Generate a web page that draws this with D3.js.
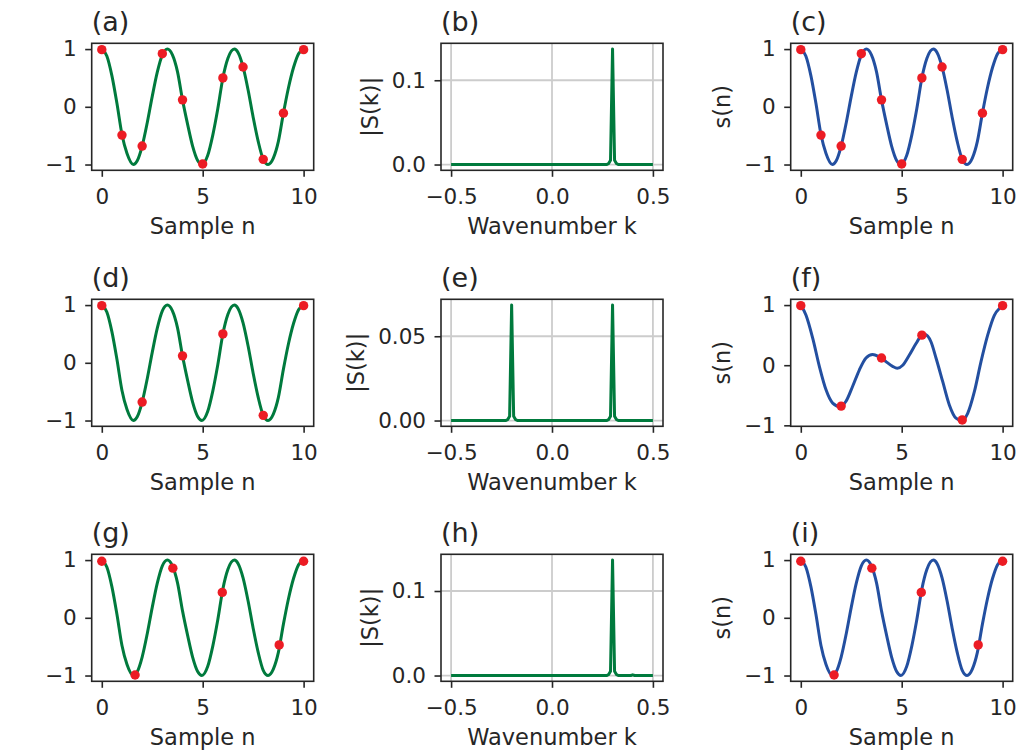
<!DOCTYPE html>
<html><head><meta charset="utf-8">
<script src="https://cdn.jsdelivr.net/npm/d3@7"></script>
<style>
body{margin:0;background:#fff}
text{font-family:"DejaVu Sans",sans-serif;fill:#262626}
</style>
</head><body>
<svg id="chart" width="1021" height="753"></svg>
<script>
// ---- data ----
// continuous signal (panels a, c, d, g, i)
const signalT = [0,0.25,0.5,0.75,1.0,1.25,1.56,1.75,2.0,2.25,2.5,2.75,3.0,3.25,3.5,3.75,4.0,4.25,4.5,4.75,4.96,5.25,5.5,5.75,6.0,6.25,6.57,6.75,7.0,7.25,7.5,7.75,8.0,8.24,8.5,8.75,9.0,9.25,9.5,9.75,10];
const signalS = [1.0,0.88,0.54,0.06,-0.48,-0.81,-1.0,-0.94,-0.68,-0.28,0.18,0.6,0.9,1.0,0.9,0.61,0.12,-0.3,-0.68,-0.93,-1.0,-0.84,-0.49,-0.03,0.5,0.84,1.0,0.94,0.69,0.29,-0.18,-0.6,-0.91,-1.0,-0.89,-0.6,-0.11,0.33,0.68,0.92,1.0];
// reconstruction from even samples (panel f)
const reconT = [0,0.26,0.59,0.92,1.25,1.58,1.95,2.24,2.57,2.9,3.23,3.56,3.89,4.0,4.22,4.55,4.78,5.05,5.38,5.71,6.0,6.15,6.45,6.7,7.03,7.36,7.69,7.97,8.27,8.6,8.93,9.26,9.59,9.92,10];
const reconS = [1.0,0.83,0.45,-0.02,-0.41,-0.63,-0.69,-0.6,-0.35,-0.08,0.12,0.18,0.14,0.12,0.06,-0.02,-0.05,0.0,0.17,0.36,0.5,0.51,0.39,0.12,-0.27,-0.66,-0.88,-0.92,-0.8,-0.44,0.06,0.5,0.83,0.97,1.0];
// samples
const fullN = [0,1,2,3,4,5,6,7,8,9,10];
const fullS = [0.99,-0.49,-0.68,0.92,0.12,-0.99,0.50,0.69,-0.91,-0.11,0.99];
const evenN = [0,2,4,6,8,10];
const evenS = [0.99,-0.68,0.12,0.50,-0.91,0.99];
const irregN = [0,1.65,3.52,5.97,8.79,10];
const irregS = [0.98,-0.99,0.86,0.44,-0.47,0.98];
// spectra |S(k)|
const specK1 = [-0.5,0.27,0.28,0.29,0.30,0.31,0.32,0.33,0.5];
const specS1 = [0,0,0.001,0.005,0.137,0.005,0.001,0,0];
const specK2 = [-0.5,-0.23,-0.22,-0.21,-0.20,-0.19,-0.18,-0.17,0.27,0.28,0.29,0.30,0.31,0.32,0.33,0.5];
const specS2 = [0,0,0.0005,0.0025,0.0685,0.0025,0.0005,0,0,0.0005,0.0025,0.0685,0.0025,0.0005,0,0];
const specK3 = [-0.5,0.27,0.28,0.29,0.30,0.31,0.32,0.33,0.39,0.40,0.41,0.5];
const specS3 = [0,0,0.001,0.005,0.1366,0.005,0.001,0,0,0.0008,0,0];
// ticks
const sampleTicksX = [0,5,10];
const sampleTicksY = [-1,0,1];
const specTicksX = [-0.5,0,0.5];
const specTicksY1 = [0,0.1];
const specTicksY2 = [0,0.05];
const panelTitles = ["(a)","(b)","(c)","(d)","(e)","(f)","(g)","(h)","(i)"];

// ---- styling / layout ----
const GREEN = "#007a3d", BLUE = "#234fa0", RED = "#ec1c24", INK = "#262626";
const colX = [91.7, 441, 790.7], rowY = [43.3, 299.3, 554.3];
const W = 222, H = 127;
const TICK_FS = 21.5, LABEL_FS = 22.5, TITLE_FS = 27;
const svg = d3.select("#chart");
const zip = (a, b) => a.map((v, i) => [v, b[i]]);
const fmt = f => v => d3.format(f)(v).replace("-", "\u2212");

const panels = [
  {line: zip(signalT, signalS), color: GREEN, dots: zip(fullN, fullS), kind: "s", ylab: null},
  {line: zip(specK1, specS1), color: GREEN, kind: "k", yt: specTicksY1, yf: ".1f"},
  {line: zip(signalT, signalS), color: BLUE, dots: zip(fullN, fullS), kind: "s", ylab: "s(n)"},
  {line: zip(signalT, signalS), color: GREEN, dots: zip(evenN, evenS), kind: "s", ylab: null},
  {line: zip(specK2, specS2), color: GREEN, kind: "k", yt: specTicksY2, yf: ".2f"},
  {line: zip(reconT, reconS), color: BLUE, dots: zip(evenN, evenS), kind: "s", ylab: "s(n)"},
  {line: zip(signalT, signalS), color: GREEN, dots: zip(irregN, irregS), kind: "s", ylab: null},
  {line: zip(specK3, specS3), color: GREEN, kind: "k", yt: specTicksY1, yf: ".1f"},
  {line: zip(signalT, signalS), color: BLUE, dots: zip(irregN, irregS), kind: "s", ylab: "s(n)"}
];

function padded(vals) {
  const [a, b] = d3.extent(vals); const m = (b - a) * 0.05; return [a - m, b + m];
}

panels.forEach((p, i) => {
  const x0 = colX[i % 3], y0 = rowY[Math.floor(i / 3)];
  const g = svg.append("g").attr("transform", `translate(${x0},${y0})`);
  const all = p.line.concat(p.dots || []);
  const x = d3.scaleLinear().domain(padded(all.map(d => d[0]))).range([0, W]);
  const y = d3.scaleLinear().domain(padded(all.map(d => d[1]))).range([H, 0]);
  const isS = p.kind === "s";
  const xt = isS ? sampleTicksX : specTicksX;
  const yt = isS ? sampleTicksY : p.yt;

  if (!isS) {
    g.append("g").selectAll("line").data(xt).join("line")
      .attr("x1", d => x(d)).attr("x2", d => x(d)).attr("y1", 0).attr("y2", H)
      .attr("stroke", "#cccccc").attr("stroke-width", 1.8);
    g.append("g").selectAll("line").data(yt).join("line")
      .attr("y1", d => y(d)).attr("y2", d => y(d)).attr("x1", 0).attr("x2", W)
      .attr("stroke", "#cccccc").attr("stroke-width", 1.8);
  }
  const line = d3.line().x(d => x(d[0])).y(d => y(d[1]))
    .curve(isS ? d3.curveMonotoneX : d3.curveLinear);
  g.append("path").datum(p.line).attr("d", line).attr("fill", "none")
    .attr("stroke", p.color).attr("stroke-width", 3).attr("stroke-linejoin", "round");
  if (p.dots) {
    g.append("g").selectAll("circle").data(p.dots).join("circle")
      .attr("cx", d => x(d[0])).attr("cy", d => y(d[1])).attr("r", 4.7).attr("fill", RED);
  }
  g.append("rect").attr("width", W).attr("height", H).attr("fill", "none")
    .attr("stroke", INK).attr("stroke-width", 1.6);

  const xa = g.append("g").attr("transform", `translate(0,${H})`)
    .call(d3.axisBottom(x).tickValues(xt).tickSize(6.5).tickPadding(11.7)
      .tickFormat(isS ? fmt("d") : fmt(".1f")));
  const ya = g.append("g")
    .call(d3.axisLeft(y).tickValues(yt).tickSize(6.5).tickPadding(8.5)
      .tickFormat(isS ? fmt("d") : fmt(p.yf)));
  [xa, ya].forEach(a => {
    a.select(".domain").remove();
    a.selectAll(".tick line").attr("stroke", INK).attr("stroke-width", 1.6);
    a.selectAll(".tick text").attr("font-size", TICK_FS).attr("fill", INK)
      .style("font-family", "DejaVu Sans");
  });

  g.append("text").attr("x", 0).attr("y", -12).attr("font-size", TITLE_FS)
    .text(panelTitles[i]);
  g.append("text").attr("x", W / 2).attr("y", H + 63.5).attr("text-anchor", "middle")
    .attr("font-size", LABEL_FS).text(isS ? "Sample n" : "Wavenumber k");
  const ylab = isS ? p.ylab : "|S(k)|";
  if (ylab) {
    let minX = 0;
    ya.selectAll(".tick text").each(function () {
      minX = Math.min(minX, this.getBBox().x);
    });
    g.append("text").attr("transform", `translate(${minX - 14},${H / 2}) rotate(-90)`)
      .attr("text-anchor", "middle").attr("font-size", LABEL_FS).text(ylab);
  }
});
</script>
</body></html>
